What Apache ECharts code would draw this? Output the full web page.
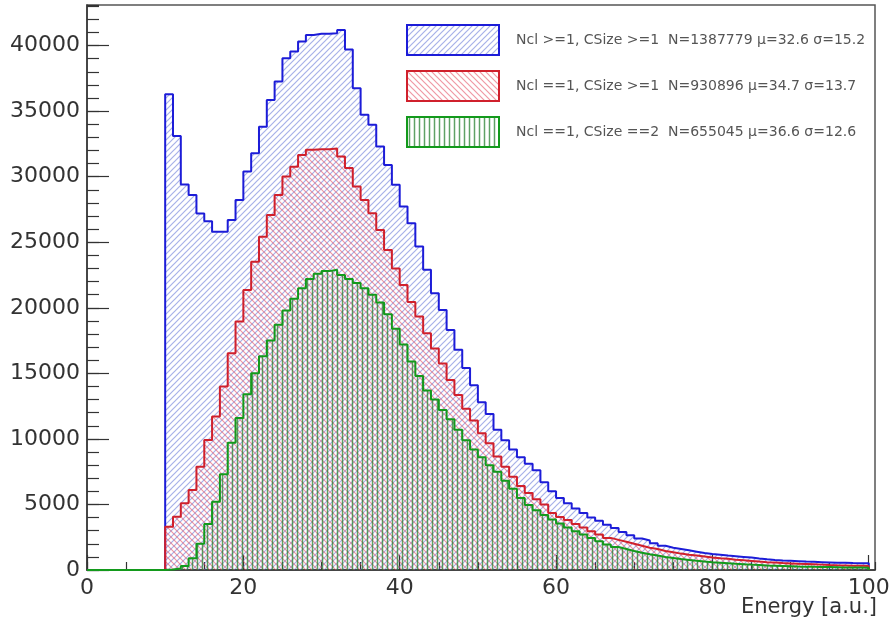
<!DOCTYPE html>
<html>
<head>
<meta charset="utf-8">
<script src="https://cdn.jsdelivr.net/npm/echarts@6/dist/echarts.min.js"></script>
<style>html,body{margin:0;padding:0;background:#fff;}#chart{width:894px;height:628px;}</style>
</head>
<body>
<div id="chart"></div>
<script>
// ---- data (bin lower edges 0..99, width 1) ----
const binLowEdges = Array.from({length: 100}, (_, i) => i);
const histUpperEdge = 100;

const xAxisTitle = 'Energy [a.u.]';
const seriesNames = [
  "Ncl >=1, CSize >=1  N=1387779 \u03bc=32.6 \u03c3=15.2",
  "Ncl ==1, CSize >=1  N=930896 \u03bc=34.7 \u03c3=13.7",
  "Ncl ==1, CSize ==2  N=655045 \u03bc=36.6 \u03c3=12.6"
];

const blueCounts = [
  0,0,0,0,0,0,0,0,0,0,
  36300,33100,29400,28600,27200,26600,25800,25800,26700,28230,
  30390,31790,33820,35860,37260,39040,39550,40310,40820,40900,
  40900,40950,41200,39700,36750,34720,33960,32300,30900,29380,
  27720,26450,24670,22900,21110,19840,18310,16800,15400,14100,
  12800,11900,10700,9900,9200,8600,8100,7600,6700,6000,
  5500,5100,4700,4350,4000,3750,3450,3200,2900,2650,
  2400,2250,2050,1850,1700,1600,1500,1400,1300,1220,
  1160,1100,1050,1000,950,880,820,770,730,700,
  670,640,620,600,580,560,550,530,520,510
];
const redCounts = [
  0,0,0,0,0,0,0,0,0,0,
  3300,4070,5090,6100,7880,9920,11700,13990,16530,18950,
  21360,23520,25430,27090,28610,30010,30770,31660,32050,32100,
  32100,32150,31540,30670,29250,28230,27220,25940,24420,23000,
  21750,20450,19330,18060,16900,15750,14500,13350,12300,11400,
  10430,9670,8650,7880,7120,6400,5870,5400,5000,4350,
  4050,3810,3500,3250,2950,2700,2450,2300,2150,2000,
  1850,1700,1600,1450,1350,1250,1170,1100,1030,960,
  900,850,790,740,690,640,600,565,530,500,
  470,450,430,410,380,360,345,330,315,300
];
const greenCounts = [
  0,0,0,0,0,0,0,0,0,0,
  40,120,300,900,2000,3500,5200,7300,9700,11600,
  13400,15000,16300,17500,18700,19800,20700,21500,22200,22600,
  22800,22900,22500,22200,21900,21500,21000,20400,19500,18400,
  17200,15900,14800,13700,13000,12200,11500,10700,9900,9200,
  8600,8000,7500,6800,6200,5500,4950,4550,4200,3850,
  3550,3250,2950,2700,2450,2200,1950,1750,1600,1450,
  1320,1200,1100,1000,920,840,770,700,640,590,
  550,510,470,440,410,380,350,330,310,290,
  270,255,240,230,220,210,200,190,185,180
];

const xTickMajor = 20, xTickMinor = 5;
const yTickMajor = 5000, yTickMinor = 1000;

// ---- styling helpers ----
function makeHatch(kind, color, size, width) {
  const c = document.createElement('canvas');
  c.width = size; c.height = size;
  const g = c.getContext('2d');
  g.strokeStyle = color; g.lineWidth = width;
  g.beginPath();
  if (kind === '/') {
    g.moveTo(-1, size + 1); g.lineTo(size + 1, -1);
    g.moveTo(-2, 2); g.lineTo(2, -2);
    g.moveTo(size - 2, size + 2); g.lineTo(size + 2, size - 2);
  } else if (kind === '\\') {
    g.moveTo(-1, -1); g.lineTo(size + 1, size + 1);
    g.moveTo(size - 2, -2); g.lineTo(size + 2, 2);
    g.moveTo(-2, size - 2); g.lineTo(2, size + 2);
  } else {
    g.moveTo(size / 2, 0); g.lineTo(size / 2, size);
  }
  g.stroke();
  return {image: c, repeat: 'repeat'};
}

const lineColors = ['#1c1cd8', '#d0202c', '#139a1c'];
const hatches = [
  makeHatch('/', 'rgba(80,100,210,0.5)', 6, 1.2),
  makeHatch('\\', 'rgba(225,70,90,0.55)', 6, 1.2),
  makeHatch('|', 'rgba(40,130,50,0.75)', 5, 1.5)
];

function toSteps(counts) {
  const pts = binLowEdges.map((x, i) => [x, counts[i]]);
  pts.push([histUpperEdge, 0]);
  return pts;
}

const allCounts = [blueCounts, redCounts, greenCounts];

const chart = echarts.init(document.getElementById('chart'), null, {renderer: 'canvas'});
const axisFont = {fontFamily: 'DejaVu Sans', fontSize: 22, color: '#333'};
const xMax = 100.8, yMax = 43100;
const plain = v => String(Math.round(v));

chart.setOption({
  animation: false,
  title: {text: xAxisTitle, right: 17, top: 597, padding: 0,
          textStyle: {fontFamily: 'DejaVu Sans', fontSize: 21, fontWeight: 'normal', color: '#333'}},
  grid: {left: 87, right: 19, top: 5, bottom: 58, containLabel: false, outerBoundsMode: 'none',
         show: true, borderColor: '#555', borderWidth: 1.5, backgroundColor: 'transparent'},
  xAxis: [
    {type: 'value', min: 0, max: xMax, interval: xTickMajor, position: 'bottom',
     axisLine: {show: true, onZero: false, lineStyle: {color: '#333', width: 1.5}},
     axisTick: {show: true, inside: true, length: 15, lineStyle: {color: '#333', width: 1.2}},
     axisLabel: Object.assign({margin: 7, showMaxLabel: false, formatter: plain}, axisFont),
     splitLine: {show: false}
    },
    {type: 'value', min: 0, max: xMax, interval: xTickMinor, position: 'bottom',
     axisLine: {show: false}, axisLabel: {show: false}, splitLine: {show: false},
     axisTick: {show: true, inside: true, length: 8, lineStyle: {color: '#333', width: 1.2}}
    }
  ],
  yAxis: [
    {type: 'value', min: 0, max: yMax, interval: yTickMajor, position: 'left',
     axisLine: {show: true, onZero: false, lineStyle: {color: '#333', width: 1.5}},
     axisTick: {show: true, inside: true, length: 22, lineStyle: {color: '#333', width: 1.2}},
     axisLabel: Object.assign({margin: 7, showMaxLabel: false, formatter: plain}, axisFont),
     splitLine: {show: false}
    },
    {type: 'value', min: 0, max: yMax, interval: yTickMinor, position: 'left',
     axisLine: {show: false}, axisLabel: {show: false}, splitLine: {show: false},
     axisTick: {show: true, inside: true, length: 12, lineStyle: {color: '#333', width: 1.2}}
    }
  ],
  legend: {
    orient: 'vertical', left: 406, top: 24, padding: 0, itemWidth: 92, itemHeight: 30, itemGap: 14,
    icon: 'rect', selectedMode: false,
    textStyle: {fontFamily: 'DejaVu Sans', fontSize: 14, color: '#555', padding: [0, 0, 0, 12]},
    data: seriesNames.map((n, i) => ({name: n, itemStyle: {color: hatches[i], borderColor: lineColors[i], borderWidth: 2}}))
  },
  series: allCounts.map((counts, i) => ({
    name: seriesNames[i], type: 'line', step: 'end', xAxisIndex: 0, yAxisIndex: 0,
    symbol: 'none', data: toSteps(counts),
    lineStyle: {color: lineColors[i], width: 2},
    itemStyle: {color: lineColors[i]},
    areaStyle: {color: hatches[i], opacity: 1},
    z: 2 + i
  }))
});
</script>
</body>
</html>
